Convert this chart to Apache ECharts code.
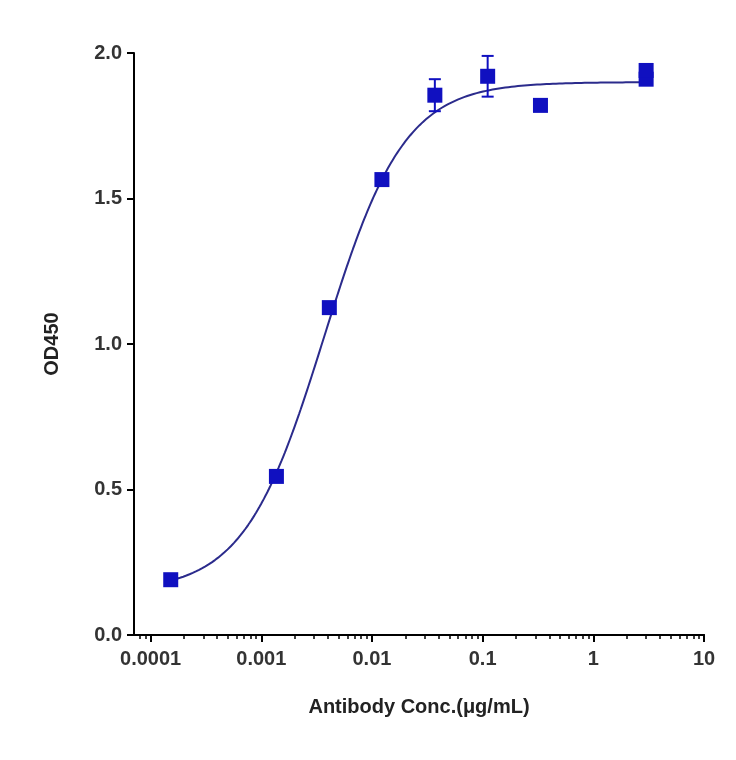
<!DOCTYPE html><html><head><meta charset="utf-8"><script src="https://cdn.jsdelivr.net/npm/echarts@6/dist/echarts.min.js"></script>
<style>body{margin:0}#c{width:736px;height:760px}</style></head><body><div id="c"></div><script>
const conc=[0.000152,0.00137,0.00412,0.0123,0.037,0.111,0.333,3,3];
const od=[0.19,0.545,1.125,1.565,1.855,1.92,1.82,1.91,1.94];
const err=[0,0,0,0,0.055,0.07,0,0,0];
const fit={bottom:0.15,top:1.90,ec50:0.0037,hill:1.2};
const majorTicks=[-4,-3,-2,-1,0,1];
const tickLabels=['0.0001','0.001','0.01','0.1','1','10'];
const minor=[];majorTicks.slice(0,-1).forEach(d=>{for(let k=2;k<10;k++)minor.push(d+Math.log10(k));});
minor.push(-4+Math.log10(0.8),-4+Math.log10(0.9));
const curve=[];for(let i=0;i<=300;i++){const lx=-3.82+i*(0.48+3.82)/300;const x=Math.pow(10,lx);curve.push([lx,fit.bottom+(fit.top-fit.bottom)/(1+Math.pow(fit.ec50/x,fit.hill))]);}
const pts=conc.map((c,i)=>[Math.log10(c),od[i]]);
const ebar=conc.map((c,i)=>[Math.log10(c),od[i]-err[i],od[i]+err[i]]).filter((d,i)=>err[i]>0);
const col='#1010c0',font='Liberation Sans';
const xbase={type:'value',min:-4.15,max:1,position:'bottom',offset:0,axisLine:{onZero:false,lineStyle:{color:'#000',width:2}},splitLine:{show:false}};
const ch=echarts.init(document.getElementById('c'));
ch.setOption({animation:false,
grid:{left:134,right:32,top:53,bottom:125},
xAxis:[Object.assign({},xbase,{name:'Antibody Conc.(μg/mL)',nameLocation:'middle',nameGap:62,nameTextStyle:{fontFamily:font,fontSize:20,fontWeight:'bold',color:'#222'},
axisTick:{customValues:majorTicks,length:7,lineStyle:{color:'#000',width:2}},axisLabel:{customValues:majorTicks,formatter:v=>tickLabels[majorTicks.indexOf(Math.round(v))],fontFamily:font,fontSize:20,fontWeight:'bold',color:'#333',margin:14}}),
Object.assign({},xbase,{axisTick:{customValues:minor,length:4,lineStyle:{color:'#000',width:1.5}},axisLabel:{show:false}})],
yAxis:{type:'value',min:0,max:2,interval:0.5,name:'OD450',nameLocation:'middle',nameGap:72,nameTextStyle:{fontFamily:font,fontSize:20,fontWeight:'bold',color:'#222'},
axisLine:{show:true,onZero:false,lineStyle:{color:'#000',width:2}},axisTick:{show:true,length:7,lineStyle:{width:2}},splitLine:{show:false},
axisLabel:{formatter:v=>v.toFixed(1),fontFamily:font,fontSize:20,fontWeight:'bold',color:'#333',margin:12}},
series:[
{type:'line',data:curve,showSymbol:false,lineStyle:{color:'#2b2b8c',width:2},z:2},
{type:'custom',renderItem:(p,api)=>{const x=api.coord([api.value(0),api.value(1)])[0];const a=api.coord([api.value(0),api.value(1)])[1];const b=api.coord([api.value(0),api.value(2)])[1];const s={stroke:col,lineWidth:2};
return {type:'group',children:[{type:'line',shape:{x1:x,y1:a,x2:x,y2:b},style:s},{type:'line',shape:{x1:x-6,y1:a,x2:x+6,y2:a},style:s},{type:'line',shape:{x1:x-6,y1:b,x2:x+6,y2:b},style:s}]};},
data:ebar,z:3},
{type:'scatter',data:pts,symbol:'rect',symbolSize:15,itemStyle:{color:col,opacity:1},z:4}
]});
</script></body></html>
